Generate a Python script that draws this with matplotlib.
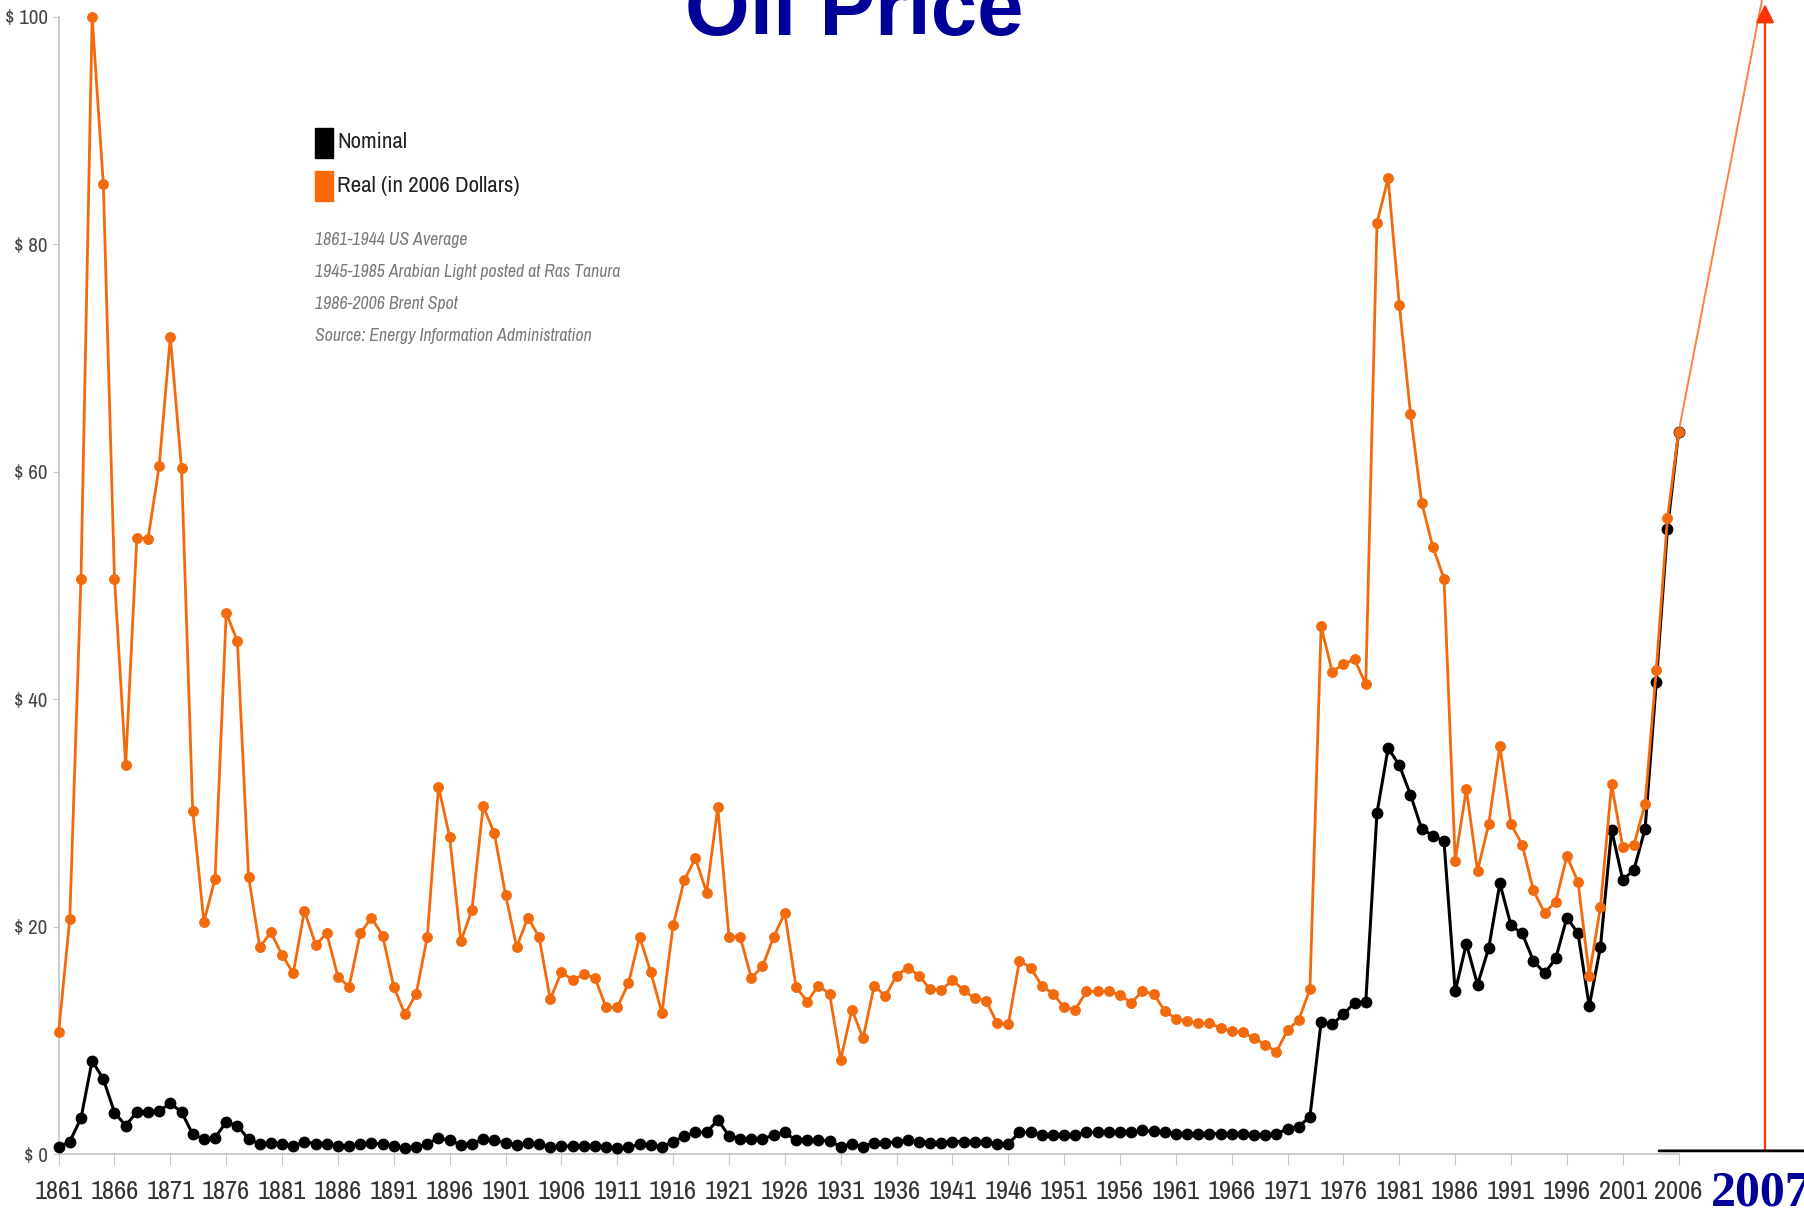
import numpy as np
import matplotlib.pyplot as plt
from matplotlib import font_manager
from matplotlib.patches import Rectangle

# Oil price 1861-2006, nominal vs real (2006 dollars)

years = np.arange(1861, 2007)

# Prezzo reale (in 2006 Dollars), un valore per anno
real = [
    10.7, 20.7, 50.6, 100.0, 85.3, 50.6, 34.2, 54.2, 54.1, 60.5,   # 1861-1870
    71.9, 60.3, 30.2, 20.4, 24.2, 47.6, 45.1, 24.4, 18.2, 19.5,    # 1871-1880
    17.5, 15.9, 21.4, 18.4, 19.4, 15.6, 14.7, 19.4, 20.8, 19.2,    # 1881-1890
    14.7, 12.3, 14.1, 19.1, 32.3, 27.9, 18.7, 21.5, 30.6, 28.2,    # 1891-1900
    22.8, 18.2, 20.8, 19.1, 13.6, 16.0, 15.3, 15.8, 15.5, 12.9,    # 1901-1910
    12.9, 15.0, 19.1, 16.0, 12.4, 20.1, 24.1, 26.0, 23.0, 30.5,    # 1911-1920
    19.1, 19.1, 15.5, 16.5, 19.1, 21.2, 14.7, 13.4, 14.8, 14.1,    # 1921-1930
    8.3, 12.7, 10.2, 14.8, 13.9, 15.7, 16.4, 15.7, 14.5, 14.4,     # 1931-1940
    15.3, 14.4, 13.7, 13.5, 11.5, 11.4, 17.0, 16.4, 14.8, 14.1,    # 1941-1950
    12.9, 12.7, 14.3, 14.3, 14.3, 14.0, 13.3, 14.3, 14.1, 12.6,    # 1951-1960
    11.9, 11.7, 11.5, 11.5, 11.1, 10.8, 10.7, 10.2, 9.6, 9.0,      # 1961-1970
    10.9, 11.8, 14.5, 46.4, 42.4, 43.1, 43.5, 41.3, 81.9, 85.8,    # 1971-1980
    74.7, 65.1, 57.3, 53.4, 50.6, 25.8, 32.1, 24.9, 29.0, 35.9,    # 1981-1990
    29.0, 27.2, 23.2, 21.2, 22.2, 26.2, 23.9, 15.7, 21.7, 32.5,    # 1991-2000
    27.0, 27.2, 30.8, 42.6, 55.9, 63.5,                            # 2001-2006
]

# Prezzo nominale
nominal = [
    0.6, 1.1, 3.15, 8.2, 6.6, 3.65, 2.5, 3.7, 3.7, 3.8,
    4.45, 3.7, 1.75, 1.3, 1.45, 2.8, 2.5, 1.3, 0.9, 0.95,
    0.9, 0.7, 1.1, 0.9, 0.9, 0.7, 0.7, 0.9, 0.95, 0.9,
    0.7, 0.55, 0.65, 0.85, 1.45, 1.2, 0.8, 0.9, 1.3, 1.2,
    1.0, 0.8, 0.95, 0.85, 0.6, 0.7, 0.7, 0.7, 0.7, 0.6,
    0.5, 0.6, 0.85, 0.8, 0.65, 1.1, 1.55, 1.9, 1.9, 3.0,
    1.6, 1.35, 1.3, 1.3, 1.7, 1.9, 1.2, 1.2, 1.2, 1.15,
    0.65, 0.9, 0.65, 1.0, 0.95, 1.1, 1.2, 1.1, 1.0, 1.0,
    1.1, 1.1, 1.1, 1.1, 0.9, 0.9, 1.9, 1.9, 1.7, 1.7,
    1.7, 1.7, 1.9, 1.9, 1.9, 1.9, 1.9, 2.1, 2.0, 1.9,
    1.8, 1.8, 1.8, 1.8, 1.8, 1.8, 1.8, 1.7, 1.7, 1.8,
    2.2, 2.4, 3.3, 11.6, 11.4, 12.3, 13.3, 13.4, 30.0, 35.7,
    34.2, 31.6, 28.6, 28.0, 27.5, 14.3, 18.5, 14.9, 18.1, 23.8,
    20.1, 19.4, 17.0, 15.9, 17.2, 20.8, 19.4, 13.0, 18.2, 28.5,
    24.1, 25.0, 28.6, 41.5, 55.0, 63.5,
]

x_ticks = list(range(1861, 2007, 5))
y_ticks = [0, 20, 40, 60, 80, 100]
y_ticklabels = ['$ %d' % v for v in y_ticks]

notes = ['1861-1944 US Average',
         '1945-1985 Arabian Light posted at Ras Tanura',
         '1986-2006 Brent Spot',
         'Source: Energy Information Administration']

orange = '#f26a0c'
navy = '#000099'

# Font stretto se c'e', altrimenti DejaVu normale ma piu' piccolo
condensed = [f.name for f in font_manager.fontManager.ttflist
             if 'condensed' in str(f.stretch) or 'Narrow' in f.name
             or 'Condensed' in f.name]
if condensed:
    narrow = [sorted(set(condensed))[0], 'DejaVu Sans']
    stretch = 'condensed'
    k = 1.0
else:
    narrow = ['DejaVu Sans']
    stretch = 'normal'
    k = 0.7

fig = plt.figure(figsize=(18.04, 12.14), dpi=100)
ax = fig.add_axes([0.0325, 0.0494, 0.898, 0.9366])

# Serie
ax.plot(years, nominal, color='black', lw=2.2, marker='o', ms=7.5,
        clip_on=False, zorder=3)
ax.plot(years, real, color=orange, lw=2.0, marker='o', ms=6.8,
        clip_on=False, zorder=4)

ax.set_xlim(1861, 2006)
ax.set_ylim(0, 100)

# Assi
for s in ['top', 'right']:
    ax.spines[s].set_visible(False)
for s in ['left', 'bottom']:
    ax.spines[s].set_color('#c8c8c8')
    ax.spines[s].set_linewidth(1.3)

ax.set_xticks(x_ticks)
ax.set_xticklabels([str(t) for t in x_ticks], fontsize=19 * k, color='#333333',
                   family=narrow, fontstretch=stretch)
ax.set_yticks(y_ticks)
ax.set_yticklabels(y_ticklabels, fontsize=15 * k, color='#444444',
                   family=narrow, fontstretch=stretch)
ax.tick_params(axis='x', length=8, color='#c8c8c8', pad=11)
ax.tick_params(axis='y', length=4, color='#c8c8c8', pad=4)

# Legenda (quadratini + testo)
fig.add_artist(Rectangle((315 / 1804, 1 - 158 / 1214), 18 / 1804, 30 / 1214,
                         transform=fig.transFigure, color='black'))
fig.add_artist(Rectangle((315 / 1804, 1 - 201 / 1214), 18 / 1804, 30 / 1214,
                         transform=fig.transFigure, color='#ff6a00'))
fig.text(337 / 1804, 0.8827, 'Nominal', fontsize=16.5 * k, color='#222222',
         ha='left', va='center', family=narrow, fontstretch=stretch)
fig.text(337 / 1804, 0.8468, 'Real (in 2006 Dollars)', fontsize=16.5 * k,
         color='#222222', ha='left', va='center', family=narrow,
         fontstretch=stretch)

for i, line in enumerate(notes):
    fig.text(315 / 1804, 0.802 - i * 0.0262, line, fontsize=12.8 * k,
             color='#7a7a7a', style='italic', ha='left', va='center',
             family=narrow, fontstretch=stretch)

# Titolo tagliato in alto
fig.text(0.4734, 0.9712, 'Oil Price', fontsize=60, fontweight='bold',
         color=navy, ha='center', va='baseline', family='Liberation Sans')

# Annotazioni sovrapposte
ax.annotate('', xy=(1762 / 1804, 1.0), xycoords='figure fraction',
            xytext=(years[-1], real[-1]), textcoords='data',
            arrowprops=dict(arrowstyle='-', color='#ff7f3f', lw=1.4,
                            shrinkA=5, shrinkB=0))
ax.annotate('', xy=(0.9784, 0.9965), xycoords='figure fraction',
            xytext=(0.9784, 0.052), textcoords='figure fraction',
            arrowprops=dict(arrowstyle='-|>', color='#ff3300', lw=1.6,
                            mutation_scale=28, shrinkA=0, shrinkB=0))
ax.annotate('', xy=(1.0, 0.052), xycoords='figure fraction',
            xytext=(1659 / 1804, 0.052), textcoords='figure fraction',
            arrowprops=dict(arrowstyle='-', color='black', lw=2.0,
                            shrinkA=0, shrinkB=0))
fig.text(0.9485, 0.007, '2007', fontsize=36, fontweight='bold', color=navy,
         ha='left', va='baseline', family='Liberation Serif')

plt.savefig('out.png', dpi=100)
plt.close()
